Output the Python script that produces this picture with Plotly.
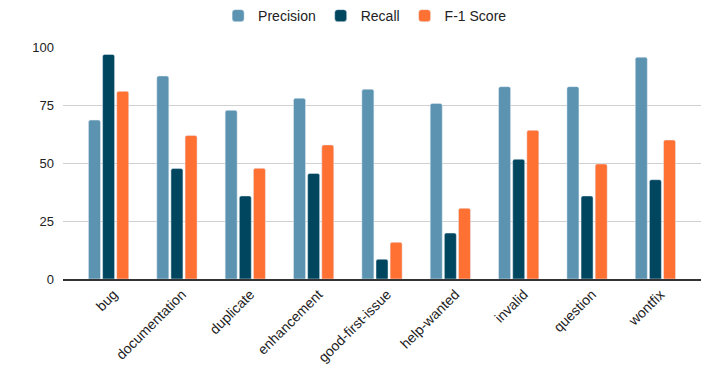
import plotly.graph_objects as go

labels = ["bug", "documentation", "duplicate", "enhancement", "good-first-issue",
          "help-wanted", "invalid", "question", "wontfix"]
precision = [68.5, 87.5, 72.7, 77.9, 81.8, 75.7, 82.9, 82.9, 95.6]
recall = [96.8, 47.6, 35.8, 45.5, 8.5, 19.8, 51.6, 35.8, 42.8]
f1_score = [80.9, 61.9, 47.7, 57.8, 15.8, 30.5, 64.1, 49.6, 59.9]

fig = go.Figure()
fig.add_trace(go.Bar(x=labels, y=precision, name="Precision",
                     marker=dict(color="#5b93b0", cornerradius=2)))
fig.add_trace(go.Bar(x=labels, y=recall, name="Recall",
                     marker=dict(color="#01465f", cornerradius=2)))
fig.add_trace(go.Bar(x=labels, y=f1_score, name="F-1 Score",
                     marker=dict(color="#ff7033", cornerradius=2)))

# page body has an 8px margin, so the figure margins are shifted to compensate
fig.update_layout(
    width=720,
    height=383,
    margin=dict(l=55, r=27, t=39, b=112, autoexpand=False),
    plot_bgcolor="white",
    paper_bgcolor="white",
    font=dict(family="Liberation Sans, Arial, sans-serif", size=13, color="#222222"),
    barmode="group",
    bargap=0.38,
    bargroupgap=0.15,
    showlegend=True,
    legend=dict(orientation="h", xref="container", yref="container",
                x=0.496, xanchor="center", y=0.979, yanchor="middle",
                font=dict(size=14), itemwidth=30),
    xaxis=dict(range=[-0.667, 8.667], tickangle=-45, showgrid=False,
               showline=True, linecolor="#333333", linewidth=1.5, ticks="",
               tickfont=dict(size=14), automargin=False, ticklabelshift=5),
    yaxis=dict(range=[0, 100], tickvals=[0, 25, 50, 75, 100], showgrid=True,
               gridcolor="#d0d0d0", gridwidth=1, zeroline=False, ticks="",
               ticklabelstandoff=8, automargin=False),
)

fig.write_html("out.html")
